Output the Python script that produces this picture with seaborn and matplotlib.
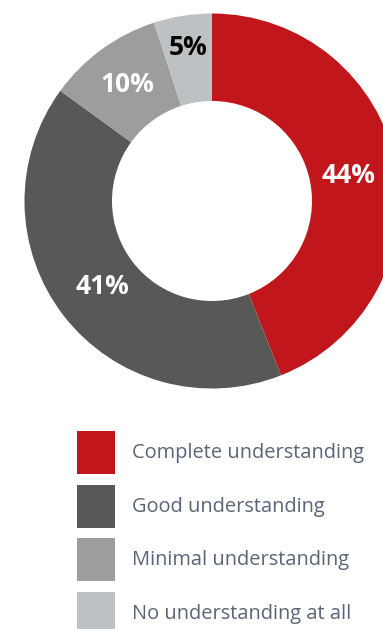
import matplotlib
matplotlib.use("Agg")
import matplotlib.pyplot as plt
from matplotlib.patches import Rectangle
import numpy as np
import seaborn as sns

# Survey breakdown
categories = ["Complete understanding", "Good understanding",
              "Minimal understanding", "No understanding at all"]
shares = [44, 41, 10, 5]
pct_labels = ["44%", "41%", "10%", "5%"]
label_colors = ["white", "white", "white", "black"]
label_radius = [0.74, 0.74, 0.765, 0.83]

sns.set_theme(style="white")
plt.rcParams["font.family"] = ["Open Sans", "DejaVu Sans"]
palette = sns.color_palette(["#C1171C", "#585856", "#9D9D9B", "#BEC1C4"])

W, H = 383, 629
fig = plt.figure(figsize=(W / 100, H / 100), dpi=100)
fig.patch.set_facecolor("white")

# Donut axes: centre (212, 201) px from top, outer radius 187.5 px
cx, cy, R = 212, 201, 187.5
ax = fig.add_axes([(cx - R) / W, (H - cy - R) / H, 2 * R / W, 2 * R / H])
wedges, _ = ax.pie(shares, colors=palette, startangle=90, counterclock=False,
                   radius=1.0, wedgeprops=dict(width=1 - 100 / R, linewidth=0))
ax.set_xlim(-1, 1)
ax.set_ylim(-1, 1)
ax.set_aspect("equal")
ax.axis("off")

for w, lab, col, r in zip(wedges, pct_labels, label_colors, label_radius):
    ang = np.deg2rad((w.theta1 + w.theta2) / 2)
    ax.text(r * np.cos(ang), r * np.sin(ang), lab, ha="center", va="center",
            color=col, fontsize=19, fontweight="bold", clip_on=False)

# Legend in pixel coordinates
lg = fig.add_axes([0, 0, 1, 1])
lg.set_xlim(0, W)
lg.set_ylim(H, 0)
lg.axis("off")
row_top = [431, 485, 538, 592]
for top, col, name in zip(row_top, palette, categories):
    lg.add_patch(Rectangle((77, top), 38, 43, facecolor=col, edgecolor="none"))
    lg.text(132, top + 22, name, ha="left", va="center", color="#5A6578",
            fontsize=14.4)

fig.savefig("out.png", dpi=100, facecolor="white")
